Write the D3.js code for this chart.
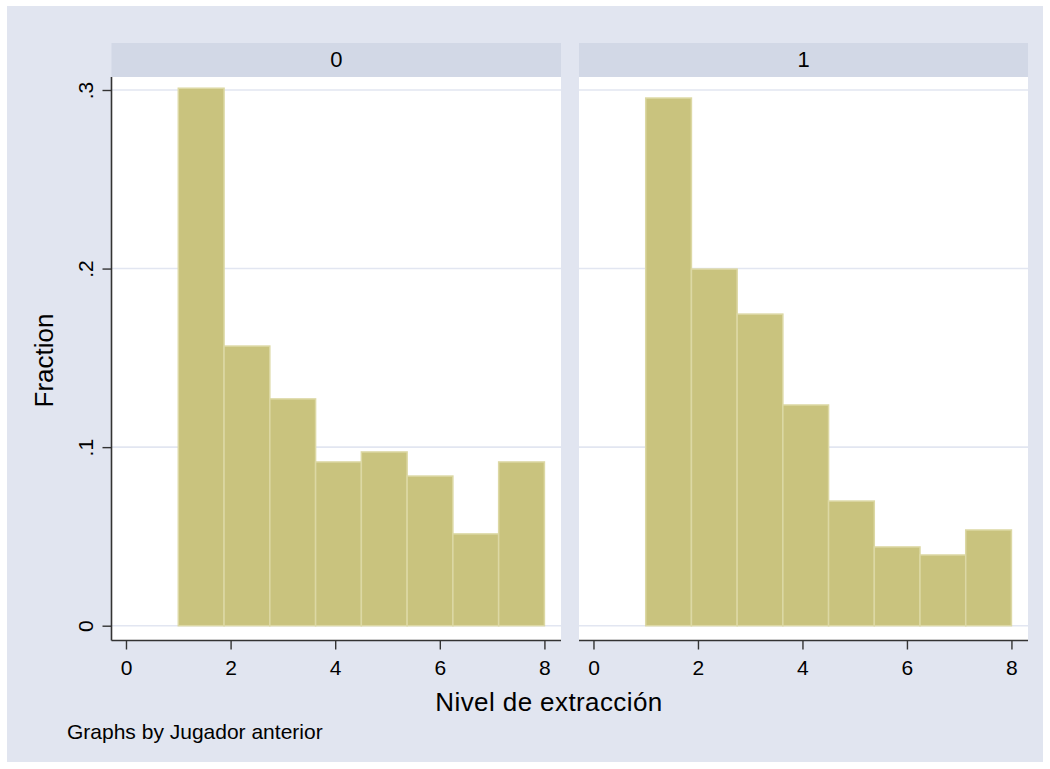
<!DOCTYPE html>
<html><head><meta charset="utf-8">
<script src="https://cdn.jsdelivr.net/npm/d3@7"></script>
<style>body{margin:0;background:#fff}text{font-family:"Liberation Sans",Arial,sans-serif;fill:#000}</style>
</head><body>
<svg id="c" width="1050" height="769"></svg>
<script>
const panels = ["0", "1"];
const binEdges = [1, 1.875, 2.75, 3.625, 4.5, 5.375, 6.25, 7.125, 8];
const fraction0 = [0.301, 0.1566, 0.127, 0.0917, 0.0973, 0.0838, 0.0514, 0.0917];
const fraction1 = [0.2955, 0.1997, 0.1745, 0.1236, 0.0698, 0.0441, 0.0396, 0.0536];
const xTicks = [0, 2, 4, 6, 8];
const yTicks = [0, 0.1, 0.2, 0.3];
const yTickLabels = ["0", ".1", ".2", ".3"];
const series = [fraction0, fraction1];

const svg = d3.select("#c");
svg.append("rect").attr("x",7).attr("y",6).attr("width",1036).attr("height",756).attr("fill","#e1e5f0");

const panelBox = [{l:111.5, r:561}, {l:579, r:1028}];
const stripTop = 43, plotTop = 77, plotBottom = 640.5;
const y = d3.scaleLinear().domain([0, 0.3]).range([625.7, 90]);
const FONT = "Liberation Sans, Arial, sans-serif";

panelBox.forEach((pb, i) => {
  const x = d3.scaleLinear().domain([-0.277, 8.317]).range([pb.l, pb.r]);
  const g = svg.append("g");
  g.append("rect").attr("x",pb.l).attr("y",stripTop).attr("width",pb.r-pb.l).attr("height",plotTop-stripTop).attr("fill","#d2d8e6");
  g.append("text").attr("x",(pb.l+pb.r)/2).attr("y",66.5)
    .attr("text-anchor","middle").attr("font-size",22).text(panels[i]);
  g.append("rect").attr("x",pb.l).attr("y",plotTop).attr("width",pb.r-pb.l).attr("height",plotBottom-plotTop).attr("fill","#fff");
  g.selectAll("line.grid").data(yTicks).join("line")
    .attr("x1",pb.l).attr("x2",pb.r).attr("y1",d=>y(d)).attr("y2",d=>y(d))
    .attr("stroke","#e2e6f1").attr("stroke-width",1.6);
  const vals = series[i];
  g.selectAll("rect.bar").data(vals).join("rect")
    .attr("x",(d,j)=>x(binEdges[j])).attr("width",(d,j)=>x(binEdges[j+1])-x(binEdges[j]))
    .attr("y",d=>y(d)).attr("height",d=>y(0)-y(d))
    .attr("fill","#c9c37e").attr("stroke","#dcd8a4").attr("stroke-width",1.5);
  const xa = g.append("g").attr("transform",`translate(0,${plotBottom})`)
    .call(d3.axisBottom(x).tickValues(xTicks).tickSize(9).tickSizeOuter(0).tickFormat(d3.format("d")));
  xa.select(".domain").attr("d",`M${pb.l},0H${pb.r}`).attr("stroke","#333").attr("stroke-width",1.6);
  xa.selectAll(".tick line").attr("stroke","#333").attr("stroke-width",1.4);
  xa.selectAll(".tick text").attr("font-size",21).attr("font-family",FONT).attr("fill","#000")
    .attr("dy",null).attr("y",34.5);
  if (i === 0) {
    const ya = g.append("g").attr("transform",`translate(${pb.l},0)`)
      .call(d3.axisLeft(y).tickValues(yTicks).tickSize(9).tickSizeOuter(0).tickFormat((d,k)=>yTickLabels[k]));
    ya.select(".domain").attr("d",`M0,${plotTop}V${plotBottom}`).attr("stroke","#333").attr("stroke-width",1.6);
    ya.selectAll(".tick line").attr("stroke","#333").attr("stroke-width",1.4);
    ya.selectAll(".tick text").attr("font-size",21).attr("font-family",FONT).attr("fill","#000")
      .attr("x",0).attr("y",0).attr("dy",null).attr("text-anchor","middle")
      .attr("transform","translate(-19,0) rotate(-90)");
  }
});

svg.append("text").attr("transform","translate(53,360.5) rotate(-90)").attr("text-anchor","middle")
  .attr("font-size",26).text("Fraction");
svg.append("text").attr("x",549).attr("y",710.7).attr("text-anchor","middle")
  .attr("font-size",26).attr("letter-spacing",0.4).text("Nivel de extracción");
svg.append("text").attr("x",67).attr("y",739)
  .attr("font-size",21).text("Graphs by Jugador anterior");
</script>
</body></html>
